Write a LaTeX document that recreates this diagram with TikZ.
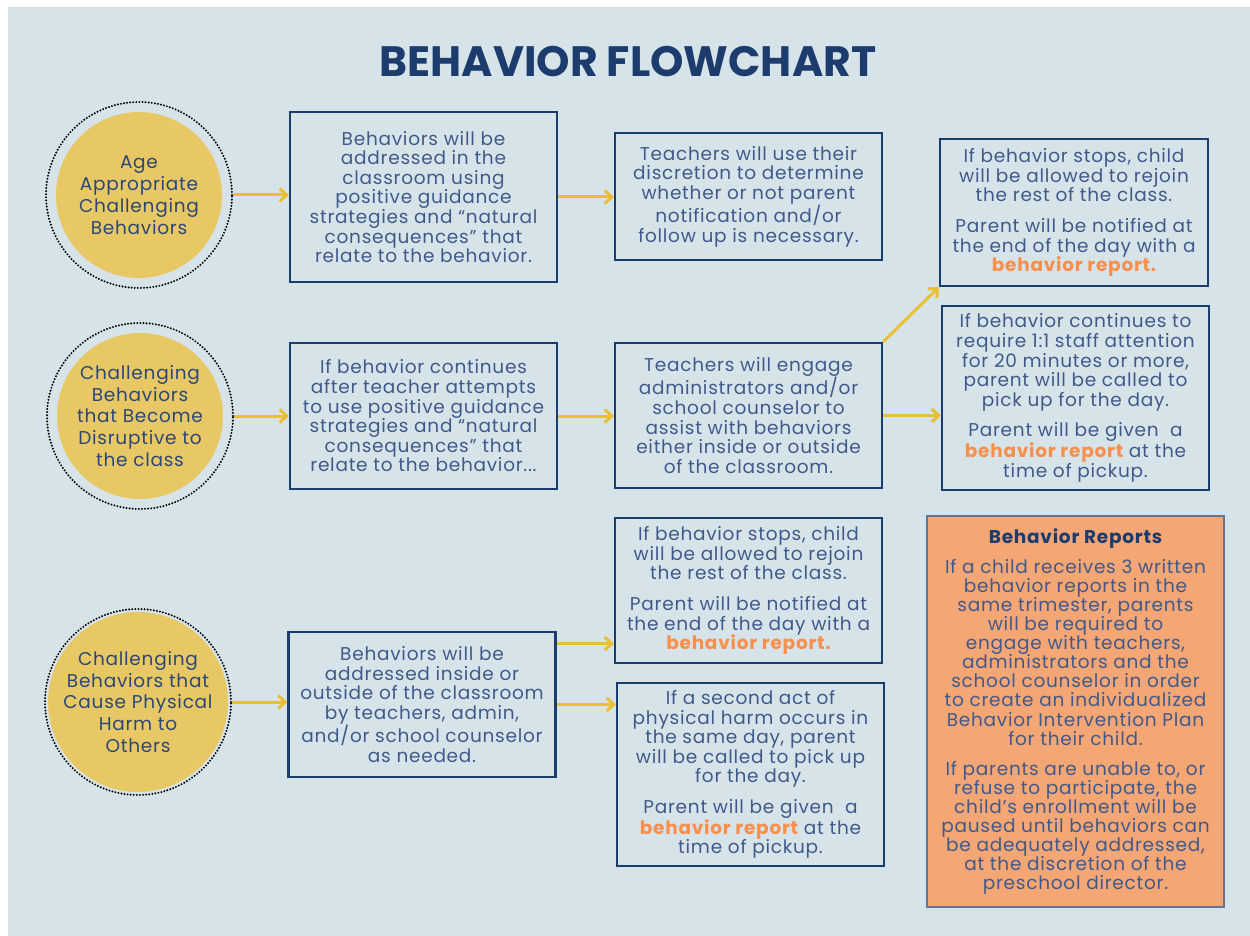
\documentclass[tikz,border=0pt]{standalone}
\usepackage{fontspec}
\setmainfont{Poppins}
\newfontfamily\widefont[LetterSpace=4]{Poppins}
\usepackage{xcolor}
\usepackage{tikz}
\usetikzlibrary{arrows.meta}

\definecolor{panel}{HTML}{D6E4EA}
\definecolor{navy}{HTML}{1D3C6E}
\definecolor{bodytext}{HTML}{41598A}
\definecolor{blobtext}{HTML}{2C4777}
\definecolor{blobfill}{HTML}{E8C865}
\definecolor{arrowc}{HTML}{E8BF35}
\definecolor{orangefill}{HTML}{F4A674}
\definecolor{orangeline}{HTML}{5F7795}
\definecolor{orangetxt}{HTML}{F98F4B}

\newcommand{\bhrep}[1]{{\color{orangetxt}\bfseries #1}}

\begin{document}
\begin{tikzpicture}[x=1pt,y=-1pt,
  box/.style={draw=navy,line width=2.2pt,minimum width=267pt,align=center,
    text=bodytext,inner sep=0pt,font=\widefont\fontsize{18.5}{19.6}\selectfont},
  blob/.style={circle,fill=blobfill,minimum size=166pt,inner sep=0pt,align=center,
    text=blobtext,font=\widefont\fontsize{18.5}{21.8}\selectfont},
  ring/.style={circle,draw=black,line width=2.2pt,line cap=round,
    dash pattern=on 0pt off 3.1pt,minimum size=186pt,inner sep=0pt},
  flow/.style={draw=arrowc,line width=3pt,-{Straight Barb[length=7pt,width=13pt,line width=3pt]}}]

\useasboundingbox (0,0) rectangle (1250,936);
\fill[panel] (8,7) rectangle (1250,936);

\node[font=\fontsize{42.5}{42}\selectfont\bfseries,text=navy] (title) at (628,62) {BEHAVIOR FLOWCHART};

% starting behaviours
\node[ring] (age-r) at (139,195) {};
\node[blob] (age) at (139,195) {Age\\Appropriate\\Challenging\\Behaviors};
\node[ring] (disrupt-r) at (140,416) {};
\node[blob] (disrupt) at (140,416) {Challenging\\Behaviors\\that Become\\Disruptive to\\the class};
\node[ring] (harm-r) at (138,702) {};
\node[blob] (harm) at (138,702) {Challenging\\Behaviors that\\Cause Physical\\Harm to\\Others};

% first row
\node[box,minimum height=170pt] (b1) at (423.5,197) {Behaviors will be\\addressed in the\\classroom using\\positive guidance\\strategies and “natural\\consequences” that\\relate to the behavior.};
\node[box,minimum height=127pt] (b2) at (748.5,196.5) {Teachers will use their\\discretion to determine\\whether or not parent\\notification and/or\\follow up is necessary.};
\node[box,minimum height=147pt,minimum width=268pt] (b3) at (1074,212.5) {If behavior stops, child\\will be allowed to rejoin\\the rest of the class.\\[11pt]Parent will be notified at\\the end of the day with a\\\bhrep{behavior report.}};

% second row
\node[box,minimum height=146pt] (b4) at (423.5,416) {If behavior continues\\after teacher attempts\\to use positive guidance\\strategies and “natural\\consequences” that\\relate to the behavior...};
\node[box,minimum height=145pt] (b5) at (748.5,415.5) {Teachers will engage\\administrators and/or\\school counselor to\\assist with behaviors\\either inside or outside\\of the classroom.};
\node[box,minimum height=184pt] (b6) at (1075.5,398) {If behavior continues to\\require 1:1 staff attention\\for 20 minutes or more,\\parent will be called to\\pick up for the day.\\[11pt]Parent will be given\ \ a\\\bhrep{behavior report} at the\\time of pickup.};

% third row
\node[box,minimum height=145pt] (b7) at (422,704.5) {Behaviors will be\\addressed inside or\\outside of the classroom\\by teachers, admin,\\and/or school counselor\\as needed.};
\node[box,minimum height=145pt] (b8) at (748.5,590.5) {If behavior stops, child\\will be allowed to rejoin\\the rest of the class.\\[11pt]Parent will be notified at\\the end of the day with a\\\bhrep{behavior report.}};
\node[box,minimum height=183pt] (b9) at (750.5,774.5) {If a second act of\\physical harm occurs in\\the same day, parent\\will be called to pick up\\for the day.\\[11pt]Parent will be given\ \ a\\\bhrep{behavior report} at the\\time of pickup.};

% reports note
\node[box,draw=orangeline,fill=orangefill,minimum width=297pt,minimum height=391pt,text=bodytext,
  font=\widefont\fontsize{18.5}{19.1}\selectfont] (notes) at (1075.5,711.5) {{\color{navy}\bfseries Behavior Reports}\\[11pt]If a child receives 3 written\\behavior reports in the\\same trimester, parents\\will be required to\\engage with teachers,\\administrators and the\\school counselor in order\\to create an individualized\\Behavior Intervention Plan\\for their child.\\[11pt]If parents are unable to, or\\refuse to participate, the\\child’s enrollment will be\\paused until behaviors can\\be adequately addressed,\\at the discretion of the\\preschool director.};

\coordinate (b7up) at ([yshift=61pt]b7.east);

\draw[flow] (age-r.east) -- (age-r.east -| b1.west);
\draw[flow] (b1.east) -- (b1.east -| b2.west);
\draw[flow] (disrupt-r.east) -- (disrupt-r.east -| b4.west);
\draw[flow] (b4.east) -- (b4.east -| b5.west);
\draw[flow] (b5.north east) -- (b3.south west);
\draw[flow] (b5.east) -- (b5.east -| b6.west);
\draw[flow] (harm-r.east) -- (harm-r.east -| b7.west);
\draw[flow] (b7up) -- (b7up -| b8.west);
\draw[flow] (b7.east) -- (b7.east -| b9.west);
\end{tikzpicture}
\end{document}
